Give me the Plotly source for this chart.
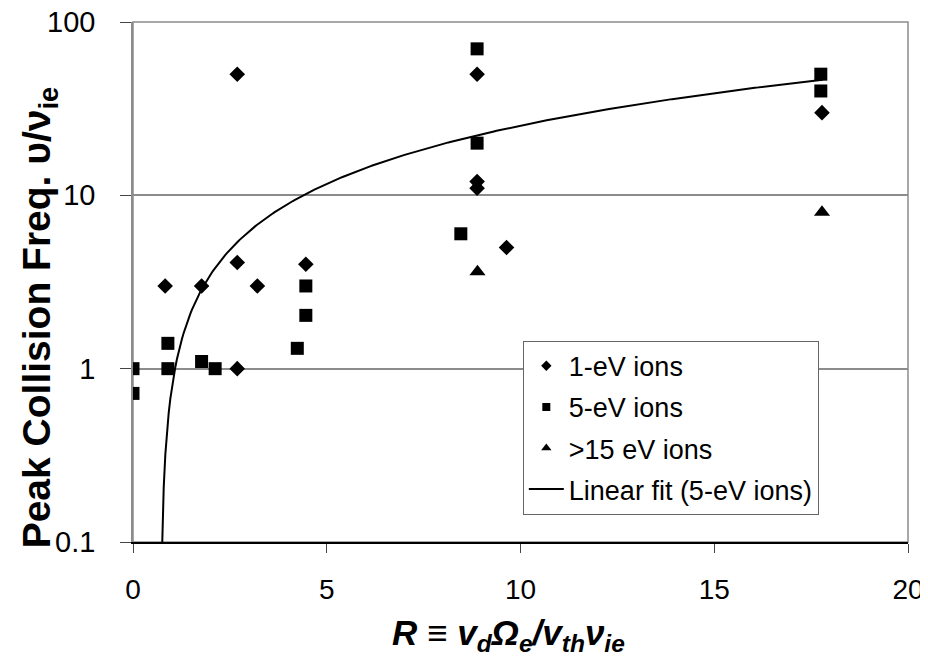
import numpy as np
import plotly.graph_objects as go

# 1-eV ions (diamonds)
x_1ev = [2.69, 8.88, 8.88, 8.88, 2.69, 0.83, 1.77, 3.21, 4.46, 2.69, 9.64, 17.78]
y_1ev = [50, 50, 12, 11, 4.1, 3.0, 3.0, 3.0, 4.0, 1.0, 5.0, 30]

# 5-eV ions (squares)
x_5ev = [8.88, 8.88, 8.46, 4.46, 4.46, 4.24, 0.90, 0.90, 1.77, 2.12, 0.0, 0.0, 17.75, 17.75]
y_5ev = [70, 20, 6.0, 3.0, 2.03, 1.31, 1.40, 1.0, 1.1, 1.0, 1.0, 0.72, 50, 40]

# >15 eV ions (triangles)
x_15ev = [8.89, 17.78]
y_15ev = [3.62, 8.0]

# Linear fit (5-eV ions): y = slope * x + intercept
fit_slope = 2.72
fit_intercept = -1.95
fit_x_end = 17.8

x_ticks = [0, 5, 10, 15, 20]
y_ticks = [0.1, 1, 10, 100]
y_tick_text = ["0.1", "1", "10", "100"]

FONT = "Arial, Liberation Sans, sans-serif"
GRAY = "#8c8c8c"

x_start = (0.1 - fit_intercept) / fit_slope * 0.995
fit_x = np.linspace(x_start, fit_x_end, 400)
fit_y = fit_slope * fit_x + fit_intercept

fig = go.Figure()

# real data traces (no legend)
fig.add_trace(go.Scatter(x=x_1ev, y=y_1ev, mode="markers", showlegend=False,
                         marker=dict(symbol="diamond", size=12, color="black")))
fig.add_trace(go.Scatter(x=x_5ev, y=y_5ev, mode="markers", showlegend=False,
                         marker=dict(symbol="square", size=13, color="black")))
fig.add_trace(go.Scatter(x=x_15ev, y=y_15ev, mode="markers", showlegend=False,
                         marker=dict(symbol="triangle-up", size=14, color="black")))
fig.add_trace(go.Scatter(x=fit_x, y=fit_y, mode="lines", showlegend=False,
                         line=dict(color="black", width=2)))

# legend entries (smaller symbols, as in the original legend)
fig.add_trace(go.Scatter(x=[None], y=[None], mode="markers", name="1-eV ions",
                         legendgroup="a",
                         marker=dict(symbol="diamond", size=8, color="black")))
fig.add_trace(go.Scatter(x=[None], y=[None], mode="markers", name="5-eV ions",
                         legendgroup="b",
                         marker=dict(symbol="square", size=8, color="black")))
fig.add_trace(go.Scatter(x=[None], y=[None], mode="markers", name=">15 eV ions",
                         legendgroup="c",
                         marker=dict(symbol="triangle-up", size=9, color="black")))
fig.add_trace(go.Scatter(x=[None], y=[None], mode="lines", name="Linear fit (5-eV ions)",
                         legendgroup="d",
                         line=dict(color="black", width=2)))

# the page body has an 8px margin, so the figure is sized to fit the window
fig.update_layout(
    width=920, height=658,
    margin=dict(l=125, r=20, t=14, b=124, autoexpand=False),
    paper_bgcolor="white", plot_bgcolor="white",
    font=dict(family=FONT, color="black"),
    showlegend=True,
    legend=dict(
        x=0.503, y=0.387, xanchor="left", yanchor="top",
        bgcolor="white", bordercolor="#666666", borderwidth=1,
        font=dict(family=FONT, size=27, color="black"),
        traceorder="grouped", tracegroupgap=3, itemwidth=35,
    ),
    shapes=[dict(type="rect", xref="paper", yref="paper", x0=0, y0=0, x1=1, y1=1,
                 line=dict(color=GRAY, width=1.5), layer="below")],
    annotations=[
        dict(text="<b>Peak Collision Freq. υ/ν<sub>ie</sub></b>",
             xref="paper", yref="paper", x=0, y=0.432, xshift=-94,
             xanchor="center", yanchor="middle", textangle=-90, showarrow=False,
             font=dict(family=FONT, size=39, color="black")),
        dict(text="<b><i>R ≡ v<sub>d</sub>Ω<sub>e</sub>/v<sub>th</sub>ν<sub>ie</sub></i></b>",
             xref="paper", yref="paper", x=0.484, y=0, yshift=-93,
             xanchor="center", yanchor="middle", showarrow=False,
             font=dict(family=FONT, size=35, color="black")),
    ],
)

fig.update_xaxes(
    range=[0, 20], tickvals=x_ticks, ticktext=[str(v) for v in x_ticks],
    showgrid=False, zeroline=False, automargin=False, ticklabeloverflow="allow",
    showline=True, linecolor="black", linewidth=1.5,
    ticks="outside", ticklen=9, tickcolor="#444444", tickwidth=1,
    tickfont=dict(family=FONT, size=28, color="black"),
    ticklabelstandoff=13,
)

fig.update_yaxes(
    type="log", range=[-1, 2], tickvals=y_ticks, ticktext=y_tick_text,
    showgrid=True, gridcolor=GRAY, gridwidth=1.5, zeroline=False, automargin=False,
    ticklabeloverflow="allow",
    showline=True, linecolor=GRAY, linewidth=1.5,
    ticks="outside", ticklen=11, tickcolor="#444444", tickwidth=1,
    tickfont=dict(family=FONT, size=29, color="black"),
    ticklabelstandoff=19,
)

fig.write_html("out.html")
